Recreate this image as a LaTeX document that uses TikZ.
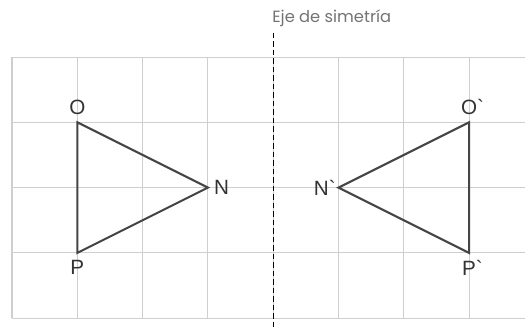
\documentclass[tikz,border=0pt]{standalone}
\usepackage{fontspec}
\usepackage{xcolor}
\usetikzlibrary{positioning}
\newfontfamily\letterfont{Liberation Sans}
\newfontfamily\axisfont{Poppins}
\definecolor{gridgray}{HTML}{CFCFCF}
\definecolor{edgegray}{HTML}{454545}
\definecolor{textgray}{HTML}{333333}
\tikzstyle{vertex} = [font=\letterfont\small, text=textgray, inner sep=1pt]
\tikzstyle{edge} = [draw=edgegray, line width=0.9pt, line join=miter]

\begin{document}
\begin{tikzpicture}
    \useasboundingbox (-0.184,-0.135) rectangle (7.856,4.873);

    % Grid
    \draw[gridgray, line width=0.45pt] (0,0) grid (7.856,4);

    % Axis of symmetry
    \coordinate (axtop) at (4,4.37);
    \coordinate (axbot) at (4,-0.135);
    \draw[black, line width=0.5pt, dash pattern=on 2.4pt off 1.3pt] (axtop) -- (axbot);
    \node[anchor=west, inner sep=0pt, font=\axisfont\fontsize{7.1}{8}\selectfont, text=gray!90!black] (axis) at (3.98,4.6) {Eje de simetría};

    % Triangle ONP
    \coordinate (O) at (1,3);
    \coordinate (N) at (3,2);
    \coordinate (P) at (1,1);
    \draw[edge] (O) -- (N) -- (P) -- cycle;
    \node[vertex, above=2pt of O] (lO) {O};
    \node[vertex, right=1.5pt of N] (lN) {N};
    \node[vertex, below=2pt of P] (lP) {P};

    % Reflected triangle
    \coordinate (Or) at (7,3);
    \coordinate (Nr) at (5,2);
    \coordinate (Pr) at (7,1);
    \draw[edge] (Or) -- (Nr) -- (Pr) -- cycle;
    \node[vertex, above=2pt of Or] (lOr) {O\rlap{\textasciigrave}};
    \node[vertex, left=0pt of Nr] (lNr) {N\textasciigrave};
    \node[vertex, below=2pt of Pr] (lPr) {P\rlap{\textasciigrave}};
\end{tikzpicture}
\end{document}
